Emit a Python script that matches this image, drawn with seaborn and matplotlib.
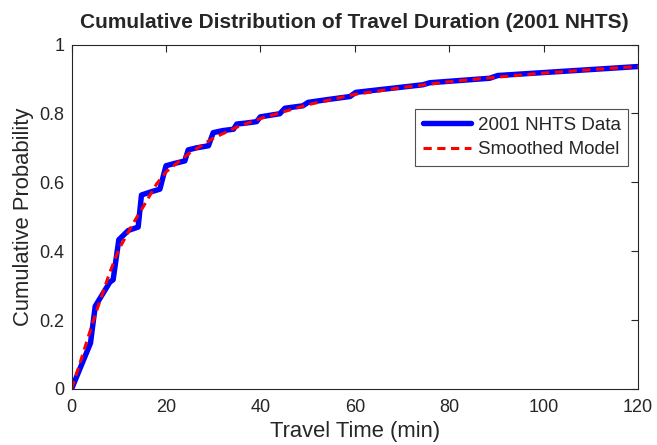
import numpy as np
import pandas as pd
import seaborn as sns
import matplotlib
matplotlib.use('Agg')
import matplotlib.pyplot as plt

data_min = [0, 4, 5, 8.1, 8.8, 10, 12, 14.1, 14.8, 17, 18.7, 20, 21.9, 24,
            24.7, 26.5, 29, 30, 32, 34.3, 35, 37, 39.2, 40, 44.1, 45.2, 49,
            50.1, 54.7, 59, 60.2, 66, 74.4, 75.9, 88.6, 90.3, 120]
data_cdf = [0, 0.133, 0.24, 0.31, 0.317, 0.433, 0.46, 0.47, 0.563, 0.573,
            0.58, 0.648, 0.655, 0.662, 0.694, 0.70, 0.706, 0.744, 0.75,
            0.754, 0.769, 0.772, 0.776, 0.79, 0.799, 0.815, 0.822, 0.832,
            0.841, 0.849, 0.861, 0.870, 0.883, 0.889, 0.902, 0.910, 0.936]

# smoothed model
model_min = [0, 2, 5, 8, 10, 13, 15, 18, 20, 25, 30, 35, 40, 50, 60, 70,
             80, 90, 100, 110, 120]
model_cdf = [0, 0.085, 0.215, 0.335, 0.405, 0.48, 0.525, 0.595, 0.63,
             0.685, 0.728, 0.76, 0.785, 0.825, 0.855, 0.875, 0.892, 0.905,
             0.917, 0.927, 0.936]

x_ticks = [0, 20, 40, 60, 80, 100, 120]
y_ticks = [0, 0.2, 0.4, 0.6, 0.8, 1]
y_tick_labels = ['0', '0.2', '0.4', '0.6', '0.8', '1']

sns.set_style('white')
plt.rcParams['font.family'] = ['Liberation Sans', 'DejaVu Sans']

df_data = pd.DataFrame({'t': data_min, 'p': data_cdf})
df_model = pd.DataFrame({'t': model_min, 'p': model_cdf})

fig = plt.figure(figsize=(6.57, 4.45), dpi=100)
ax = fig.add_axes([0.109, 0.126, 0.862, 0.774])

sns.lineplot(data=df_data, x='t', y='p', ax=ax, color='#0000ff',
             linewidth=3.9, label='2001 NHTS Data', sort=False,
             estimator=None)
sns.lineplot(data=df_model, x='t', y='p', ax=ax, color='#ff0000',
             linewidth=2.2, linestyle=(0, (2.7, 1.8)), label='Smoothed Model',
             sort=False, estimator=None)

ax.set_xlim(0, 120)
ax.set_ylim(0, 1)
ax.set_xticks(x_ticks)
ax.set_yticks(y_ticks)
ax.set_yticklabels(y_tick_labels)
ax.tick_params(direction='in', length=5, width=0.8, top=True, right=True,
               labelsize=13, colors='#262626')
ax.tick_params(axis='x', pad=7)
ax.tick_params(axis='y', pad=5)
for s in ax.spines.values():
  s.set_visible(True)
  s.set_color('#262626')
  s.set_linewidth(0.8)

ax.set_xlabel('Travel Time (min)', fontsize=15.8, labelpad=4)
ax.set_ylabel('Cumulative Probability', fontsize=15.8, labelpad=4)
ax.set_title('Cumulative Distribution of Travel Duration (2001 NHTS)',
             fontsize=15, fontweight='bold', pad=12)

leg = ax.legend(loc='upper right', bbox_to_anchor=(0.983, 0.813),
                fontsize=13.5, frameon=True, fancybox=False,
                handlelength=2.6, borderpad=0.4, labelspacing=0.4,
                handletextpad=0.35, borderaxespad=0)
leg.get_frame().set_edgecolor('#262626')
leg.get_frame().set_linewidth(0.8)

fig.savefig('out.png', dpi=100)
